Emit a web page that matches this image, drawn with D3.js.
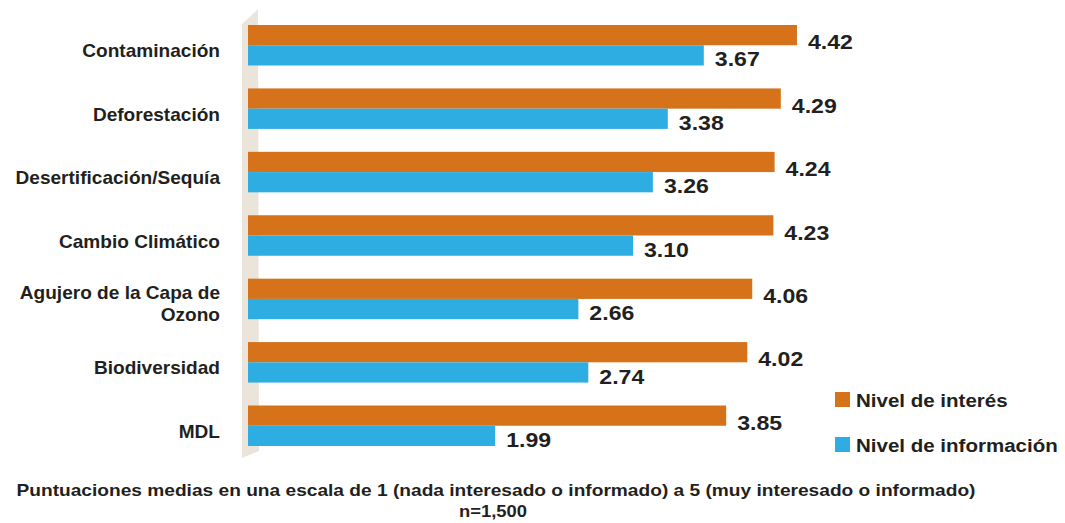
<!DOCTYPE html>
<html lang="es">
<head>
<meta charset="UTF-8">
<title>Interés e información ambiental</title>
<script src="https://d3js.org/d3.v7.min.js"></script>
<style>
  body { margin: 0; background: #fff; }
  svg text { font-family: "Liberation Sans", Arial, sans-serif; font-weight: bold; fill: #231f20; }
</style>
</head>
<body>
<script>

var categories = ["Contaminación", "Deforestación", "Desertificación/Sequía", "Cambio Climático",
                  "Agujero de la Capa de|Ozono", "Biodiversidad", "MDL"];
var interes     = [4.42, 4.29, 4.24, 4.23, 4.06, 4.02, 3.85];
var informacion = [3.67, 3.38, 3.26, 3.10, 2.66, 2.74, 1.99];
var seriesNames = ["Nivel de interés", "Nivel de información"];
var seriesColors = ["#d6731a", "#2eade2"];
var footnote = ["Puntuaciones medias en una escala de 1 (nada interesado o informado) a 5 (muy interesado o informado)",
                "n=1,500"];

var width = 1065, height = 523;

var x = d3.scaleLinear().domain([0, 5]).range([248, 869]);
var y = d3.scaleBand().domain(categories).range([25, 446]).paddingInner(0.3614).paddingOuter(0);
var half = y.bandwidth() / 2;

var svg = d3.select("body").append("svg")
    .attr("width", width)
    .attr("height", height);

// the little 3D wall behind the bars
var x0 = x(0), yTop = y.range()[0], yBot = y.range()[1];
svg.append("polygon")
    .attr("points", [[x0 - 6, yTop - 1], [x0 + 10, yTop - 16], [x0 + 11, yBot + 5], [x0 - 6, yBot + 12]].join(" "))
    .attr("fill", "#ebe4db");

var data = categories.map(function(c, i) {
  return {cat: c, vals: [interes[i], informacion[i]]};
});

var group = svg.selectAll(".cat")
    .data(data)
    .enter().append("g")
    .attr("class", "cat")
    .attr("transform", function(d) { return "translate(0," + y(d.cat) + ")"; });

group.selectAll("rect")
    .data(function(d) { return d.vals; })
    .enter().append("rect")
    .attr("x", x0)
    .attr("y", function(d, j) { return j * half; })
    .attr("width", function(d) { return x(d) - x0; })
    .attr("height", half)
    .attr("fill", function(d, j) { return seriesColors[j]; });

group.selectAll("text.val")
    .data(function(d) { return d.vals; })
    .enter().append("text")
    .attr("class", "val")
    .attr("transform", function(d, j) {
      var ty = j === 0 ? half + 4 : 2 * half + 1;
      return "translate(" + (x(d) + 11) + "," + ty + ") scale(1.1,1)";
    })
    .style("font-size", "21px")
    .text(function(d) { return d.toFixed(2); });

// category labels
group.append("text")
    .attr("transform", "translate(220," + (half + 12) + ") scale(1.06,1)")
    .attr("text-anchor", "end")
    .style("font-size", "18px")
    .each(function(d) {
      var lines = d.cat.split("|");
      var t = d3.select(this);
      lines.forEach(function(l, k) {
        t.append("tspan")
          .attr("x", 0)
          .attr("dy", k === 0 ? (lines.length > 1 ? -12 : 0) : 22)
          .text(l);
      });
    });

// legend
var legend = svg.selectAll(".legend")
    .data(seriesNames)
    .enter().append("g")
    .attr("class", "legend")
    .attr("transform", function(d, i) { return "translate(835," + (392 + i * 45) + ")"; });

legend.append("rect")
    .attr("width", 15)
    .attr("height", 15)
    .attr("fill", function(d, i) { return seriesColors[i]; });

legend.append("text")
    .attr("transform", "translate(21,15) scale(1.08,1)")
    .style("font-size", "19px")
    .text(function(d) { return d; });

// footnote
svg.append("text")
    .attr("x", 496)
    .attr("y", 496)
    .attr("text-anchor", "middle")
    .attr("textLength", 959)
    .attr("lengthAdjust", "spacingAndGlyphs")
    .style("font-size", "17px")
    .text(footnote[0]);

svg.append("text")
    .attr("x", 493)
    .attr("y", 517)
    .attr("text-anchor", "middle")
    .attr("textLength", 68)
    .attr("lengthAdjust", "spacingAndGlyphs")
    .style("font-size", "17px")
    .text(footnote[1]);

</script>
</body>
</html>
